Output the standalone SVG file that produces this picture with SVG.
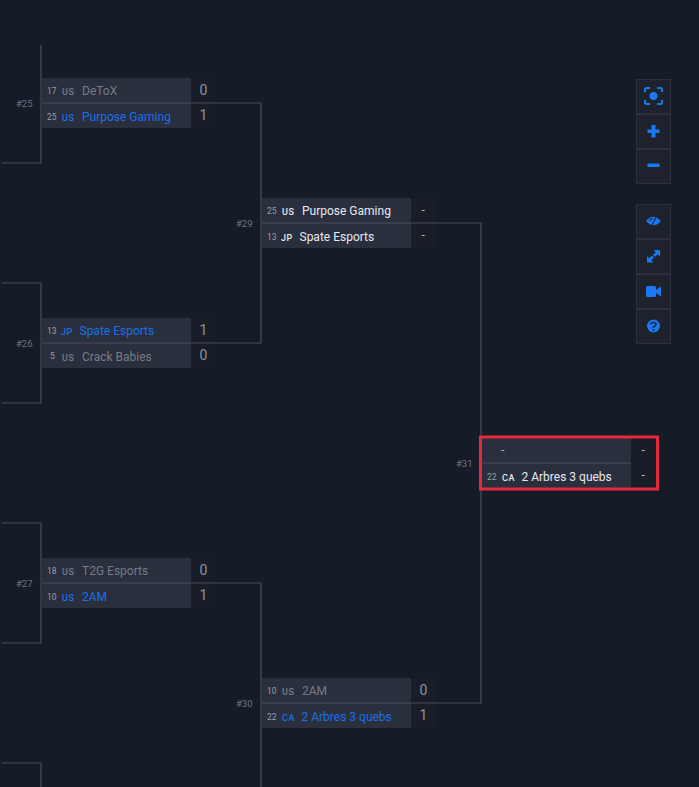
<svg xmlns="http://www.w3.org/2000/svg" width="699" height="787" viewBox="0 0 699 787">
<style>
text{font-family:Roboto,"Liberation Sans",sans-serif}
.bg{fill:#2a2f3e}.sc{fill:#181d28}
.seed{font-size:8.500px;fill:#9a9fa8}
.cc{font-size:9px;font-weight:500;letter-spacing:.6px}
.nm{font-size:12px}
.num{font-size:14px;fill:#8b919a}
.dash{font-size:12px;fill:#aeb3ba}
.mid{font-size:9.500px;fill:#6c7683}
.lose{fill:#757b86}.win{fill:#1a6fe8}.tbd{fill:#e6e9ee}
.conn{fill:none;stroke:#4a4f5a;stroke-width:1.200}
.btn{fill:#1e222d;stroke:#2c303c;stroke-width:1}
.ic{fill:#1a78f5}.ics{fill:none;stroke:#1a78f5}
</style>
<rect width="699" height="787" fill="#151b27"/>

<g id="m25">
<rect class="bg" x="42" y="78" width="149" height="50"/><rect class="sc" x="191" y="78" width="25" height="50"/>
<text class="mid" x="16" y="107">#25</text>
<text class="seed" x="47" y="94">17</text><text class="cc lose" x="62" y="95">US</text><text class="nm lose" x="82" y="95">DeToX</text><text class="num" x="199.500" y="95">0</text>
<text class="seed" x="47" y="120">25</text><text class="cc win" x="62" y="121">US</text><text class="nm win" x="82" y="121">Purpose Gaming</text><text class="num" x="199.500" y="120">1</text>
</g>
<g id="m26">
<rect class="bg" x="42" y="318" width="149" height="50"/><rect class="sc" x="191" y="318" width="25" height="50"/>
<text class="mid" x="16" y="347">#26</text>
<text class="seed" x="47" y="334">13</text><text class="cc win" x="61" y="335">JP</text><text class="nm win" x="79.500" y="335">Spate Esports</text><text class="num" x="199.500" y="335">1</text>
<text class="seed" x="50" y="359">5</text><text class="cc lose" x="62" y="361">US</text><text class="nm lose" x="82" y="361">Crack Babies</text><text class="num" x="199.500" y="360">0</text>
</g>
<g id="m27">
<rect class="bg" x="42" y="558" width="149" height="50"/><rect class="sc" x="191" y="558" width="25" height="50"/>
<text class="mid" x="16" y="587">#27</text>
<text class="seed" x="47" y="574">18</text><text class="cc lose" x="62" y="575">US</text><text class="nm lose" x="82" y="575">T2G Esports</text><text class="num" x="199.500" y="575">0</text>
<text class="seed" x="47" y="600">10</text><text class="cc win" x="62" y="601">US</text><text class="nm win" x="82" y="601">2AM</text><text class="num" x="199.500" y="600">1</text>
</g>
<g id="m29">
<rect class="bg" x="262" y="198" width="149" height="50"/><rect class="sc" x="411" y="198" width="25" height="50"/>
<text class="mid" x="236" y="227">#29</text>
<text class="seed" x="267" y="214">25</text><text class="cc tbd" x="282" y="215">US</text><text class="nm tbd" x="302" y="215">Purpose Gaming</text><text class="dash" x="421.500" y="214">-</text>
<text class="seed" x="267" y="240">13</text><text class="cc tbd" x="281" y="241">JP</text><text class="nm tbd" x="299.500" y="241">Spate Esports</text><text class="dash" x="421.500" y="239">-</text>
</g>
<g id="m30">
<rect class="bg" x="262" y="678" width="149" height="50"/><rect class="sc" x="411" y="678" width="25" height="50"/>
<text class="mid" x="236" y="707">#30</text>
<text class="seed" x="267" y="694">10</text><text class="cc lose" x="282" y="695">US</text><text class="nm lose" x="302" y="695">2AM</text><text class="num" x="419.500" y="695">0</text>
<text class="seed" x="267" y="720">22</text><text class="cc win" x="282" y="721">CA</text><text class="nm win" x="301.500" y="721">2 Arbres 3 quebs</text><text class="num" x="419.500" y="720">1</text>
</g>
<g id="m31">
<rect class="bg" x="482" y="438" width="149" height="50"/><rect class="sc" x="631" y="438" width="25" height="50"/>
<text class="mid" x="456" y="467">#31</text>
<text class="dash" x="501" y="454">-</text><text class="dash" x="641.500" y="454">-</text>
<text class="seed" x="487" y="480">22</text><text class="cc tbd" x="502" y="481">CA</text><text class="nm tbd" x="521.500" y="481">2 Arbres 3 quebs</text><text class="dash" x="641.500" y="479">-</text>
</g>

<g id="connectors">
<path class="conn" d="M41 45V163H2M42 103H261V343H42M41 283H2M41 283V403H2M41 523H2M41 523V643H2M41 763H2M41 763V787M42 583H261V787M262 223H481V703H262M482 463H631"/>
</g>
<rect id="highlight" x="480.500" y="437" width="177" height="52" fill="none" stroke="#e7283f" stroke-width="3"/>

<g id="controls-view">
<rect class="btn" x="636.500" y="79.500" width="34" height="34"/>
<rect class="btn" x="636.500" y="114.500" width="34" height="34"/>
<rect class="btn" x="636.500" y="149.500" width="34" height="34"/>
<circle class="ic" cx="653.500" cy="96" r="4"/>
<path class="ics" stroke-width="2" d="M645 92V89.500Q645 88 646.500 88H650M657 88H660.500Q662 88 662 89.500V92M662 100V102.500Q662 104 660.500 104H657M650 104H646.500Q645 104 645 102.500V100"/>
<path class="ic" d="M651.500 131H647.500V134.500H651.500V139H655.500V134.500H659.500V131H655.500V126.500H651.500Z" transform="translate(0 -1.500)"/>
<rect class="ic" x="647.500" y="163.500" width="12" height="3.500" rx=".5"/>
</g>
<g id="controls-tools">
<rect class="btn" x="636.500" y="204.500" width="34" height="34"/>
<rect class="btn" x="636.500" y="239.500" width="34" height="34"/>
<rect class="btn" x="636.500" y="274.500" width="34" height="34"/>
<rect class="btn" x="636.500" y="309.500" width="34" height="34"/>
<path class="ic" d="M646 221Q653.500 212.500 661 221Q653.500 229.500 646 221Z"/>
<path fill="none" stroke="#1e222d" stroke-width="1.100" d="M657 215.500L651 227M649.500 221Q650.500 218.800 653 218.300"/>
<path class="ic" d="M653.500 250H660V256.500L657.700 254.200L655 257L653 255L655.700 252.300ZM653.500 262.500H647V256L649.300 258.300L652 255.500L654 257.500L651.300 260.200Z"/>
<rect class="ic" x="646" y="286" width="10" height="11" rx="1.500"/>
<path class="ic" d="M656 290L661 286.500V296.500L656 293Z"/>
<circle class="ic" cx="653.500" cy="326" r="6.500"/>
<path fill="none" stroke="#1e222d" stroke-width="1.600" d="M651 324.500Q651 322.500 653.500 322.500Q656 322.500 656 324.500Q656 325.800 653.500 327V328"/>
<circle fill="#1e222d" cx="653.500" cy="330" r="1"/>
</g>
</svg>
